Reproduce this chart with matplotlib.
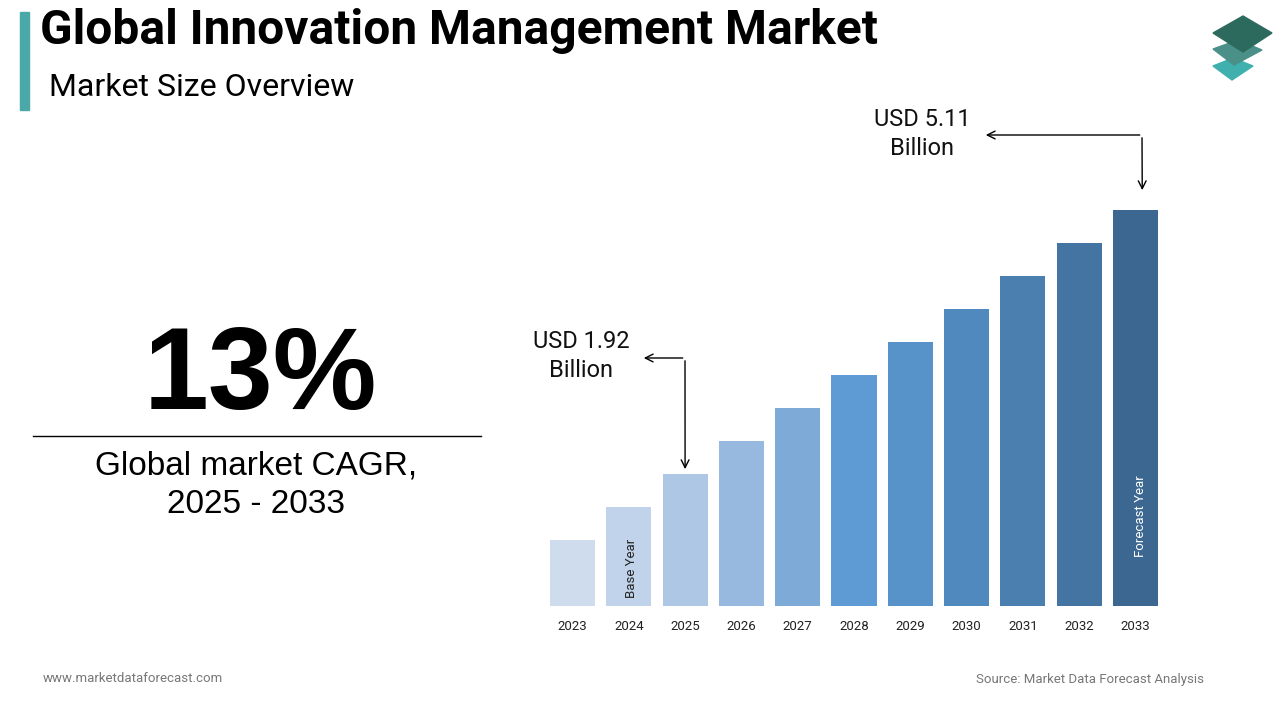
import matplotlib
matplotlib.use("Agg")
import matplotlib.pyplot as plt
from matplotlib.patches import Polygon, Rectangle

years = ["2023", "2024", "2025", "2026", "2027", "2028", "2029", "2030", "2031", "2032", "2033"]
values = [0.85, 1.28, 1.70, 2.13, 2.56, 2.98, 3.41, 3.83, 4.26, 4.68, 5.11]
colors = ["#cfdcee", "#c0d3ea", "#aec7e5", "#97b8df", "#7eaad8", "#5e9ad4",
          "#5792c8", "#4f89bd", "#4a7fb0", "#4474a2", "#3c6790"]
label_2025 = "USD 1.92\nBillion"
label_2033 = "USD 5.11\nBillion"
cagr_text = "13%"
cagr_caption = "Global market CAGR,\n2025 - 2033"
title = "Global Innovation Management Market"
subtitle = "Market Size Overview"

W, H = 1280, 720
fig = plt.figure(figsize=(W / 100, H / 100), dpi=100)
fig.patch.set_facecolor("white")

# overlay axes in pixel coordinates (y down)
ov = fig.add_axes([0, 0, 1, 1])
ov.set_xlim(0, W)
ov.set_ylim(H, 0)
ov.axis("off")

# bar axes
pitch = 56.3
left_px = 572.5 - pitch / 2
ax = fig.add_axes([left_px / W, 114 / H, pitch * 11 / W, 396 / H])
x = list(range(len(years)))
ax.bar(x, values, width=0.8, color=colors)
ax.set_xlim(-0.5, len(years) - 0.5)
ax.set_ylim(0, values[-1])
ax.set_xticks(x)
ax.set_xticklabels(years, fontsize=9.5, family="Roboto", color="#222222")
ax.tick_params(axis="x", length=0, pad=10)
ax.set_yticks([])
for s in ax.spines.values():
    s.set_visible(False)
ax.patch.set_alpha(0)

ax.text(1.05, 0.1, "Base Year", rotation=90, ha="center", va="bottom",
        fontsize=9.5, family="Roboto", color="#222222")
ax.text(10.08, 0.63, "Forecast Year", rotation=90, ha="center", va="bottom",
        fontsize=9.5, family="Roboto", color="white")

# annotations
ov.text(581, 356, label_2025, ha="center", va="center", fontsize=17,
        family="Roboto", color="#111111", linespacing=1.32)
ov.text(922, 134, label_2033, ha="center", va="center", fontsize=17,
        family="Roboto", color="#111111", linespacing=1.32)

arrow_kw = dict(arrowstyle="->", color="black", lw=1.0, mutation_scale=14)
ov.annotate("", xy=(641, 358), xytext=(685.5, 358), arrowprops=arrow_kw)
ax.annotate("", xy=(2, values[2] + 0.03), xycoords="data",
            xytext=(685, 358), textcoords=ov.transData, arrowprops=arrow_kw,
            annotation_clip=False)
ov.annotate("", xy=(983, 135), xytext=(1142.5, 135), arrowprops=arrow_kw)
ax.annotate("", xy=(10.12, values[-1] + 0.22), xycoords="data",
            xytext=(1142, 135), textcoords=ov.transData, arrowprops=arrow_kw,
            annotation_clip=False)

# title block
ov.add_patch(Rectangle((20, 12), 9, 98, color="#4aa9a8"))
ov.text(40, 31, title, ha="left", va="center", fontsize=34.5, fontweight="bold",
        family="Roboto", color="black")
ov.text(49, 87, subtitle, ha="left", va="center", fontsize=23,
        family="Roboto", color="black")

# CAGR block
ov.text(260, 379, cagr_text, ha="center", va="center", fontsize=84,
        fontweight="bold", family="Liberation Sans", color="black")
ov.plot([33, 481], [436, 436], color="black", lw=1)
ov.text(256, 485, cagr_caption, ha="center", va="center", fontsize=24,
        family="Liberation Sans", color="black", linespacing=1.3)

# footer
ov.text(43, 679, "www.marketdataforecast.com", ha="left", va="center",
        fontsize=9.5, family="Roboto", color="#777777")
ov.text(1204, 679, "Source: Market Data Forecast Analysis", ha="right", va="center",
        fontsize=9.5, family="Roboto", color="#777777")

# logo
ov.add_patch(Polygon([(1213, 66), (1233, 58), (1253, 66), (1232, 80)],
                     closed=True, color="#3fb0ad"))
ov.add_patch(Polygon([(1213, 49), (1238, 40), (1262, 50), (1234, 65)],
                     closed=True, color="#4a9089"))
ov.add_patch(Polygon([(1213, 33), (1243, 16), (1272, 33), (1243, 52)],
                     closed=True, color="#2d6a5e"))

fig.savefig("out.png", dpi=100, facecolor="white")
